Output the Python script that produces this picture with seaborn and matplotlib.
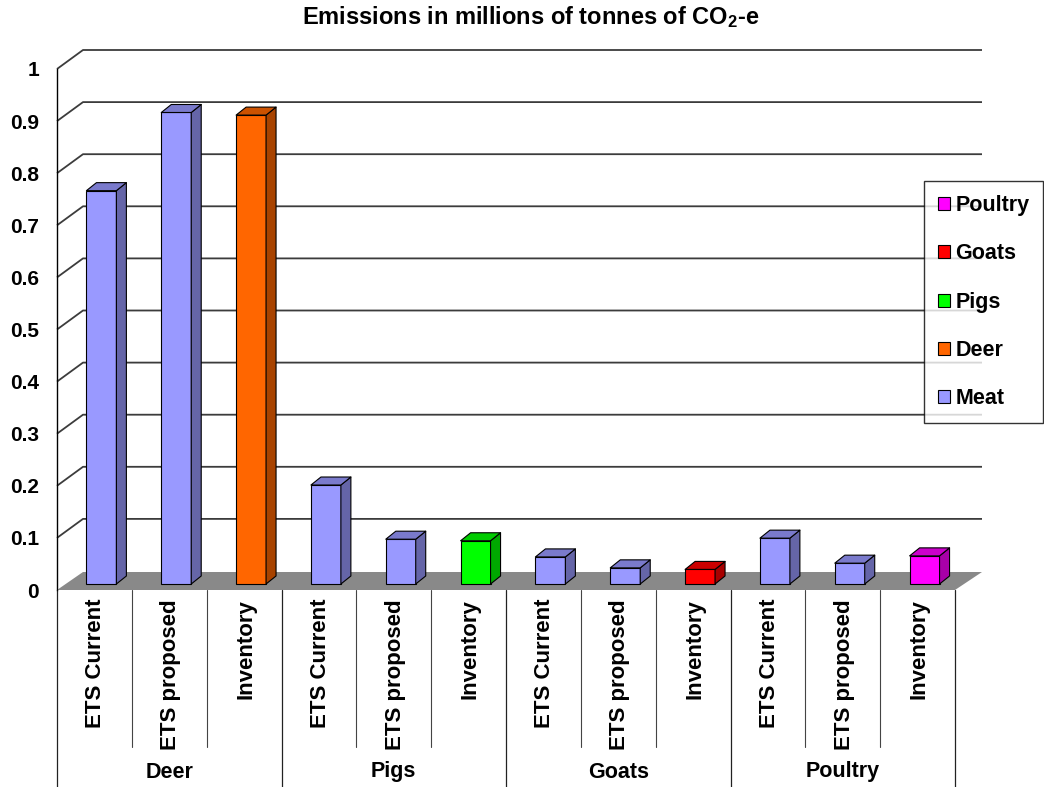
import numpy as np
import pandas as pd
import matplotlib
matplotlib.use("Agg")
import matplotlib.pyplot as plt
import matplotlib.transforms as mtransforms
from matplotlib.patches import Polygon, Patch
from matplotlib.colors import to_rgb
import seaborn as sns

# ---- data -------------------------------------------------------------
groups = ["Deer", "Pigs", "Goats", "Poultry"]
measures = ["ETS Current", "ETS proposed", "Inventory"]
deer_values = [0.755, 0.905, 0.900]
pigs_values = [0.190, 0.086, 0.083]
goats_values = [0.052, 0.031, 0.028]
poultry_values = [0.088, 0.040, 0.054]
y_ticks = [0, 0.1, 0.2, 0.3, 0.4, 0.5, 0.6, 0.7, 0.8, 0.9, 1]
y_tick_labels = ["0", "0.1", "0.2", "0.3", "0.4", "0.5", "0.6", "0.7", "0.8", "0.9", "1"]
legend_order = ["Poultry", "Goats", "Pigs", "Deer", "Meat"]
series_colors = {
    "Meat": "#9999FF",
    "Deer": "#FF6600",
    "Pigs": "#00FF00",
    "Goats": "#FF0000",
    "Poultry": "#FF00FF",
}
title = r"Emissions in millions of tonnes of CO$_2$-e"

# ---- tidy table ---------------------------------------------------------
rows = []
for g, vals in zip(groups, [deer_values, pigs_values, goats_values, poultry_values]):
    for m, v in zip(measures, vals):
        rows.append({
            "slot": f"{g} {m}",
            "group": g,
            "measure": m,
            "series": "Meat" if m.startswith("ETS") else g,
            "value": v,
        })
df = pd.DataFrame(rows)
slots = list(df["slot"])

# ---- style --------------------------------------------------------------
sns.set_style("white")
plt.rcParams["font.family"] = ["Liberation Sans", "DejaVu Sans"]
plt.rcParams["font.weight"] = "bold"
plt.rcParams["text.color"] = "black"
plt.rcParams["axes.labelcolor"] = "black"
plt.rcParams["ytick.color"] = "black"
plt.rcParams["ytick.labelcolor"] = "black"
plt.rcParams["mathtext.fontset"] = "custom"
plt.rcParams["mathtext.rm"] = "Liberation Sans:bold"
plt.rcParams["mathtext.bf"] = "Liberation Sans:bold"
plt.rcParams["mathtext.default"] = "rm"

W, H = 1044, 787
fig = plt.figure(figsize=(W / 100, H / 100), dpi=100)
fig.patch.set_facecolor("white")

# front plane of the plot area (pixel box 57..955 x 69..590)
left_px, right_px, top_px, bot_px = 57, 955, 69, 590
ax = fig.add_axes([left_px / W, 1 - bot_px / H,
                   (right_px - left_px) / W, (bot_px - top_px) / H])
ax.set_facecolor("none")

sns.barplot(data=df, x="slot", y="value", hue="series", order=slots,
            palette=series_colors, saturation=1, dodge=False, width=0.4,
            errorbar=None, legend=False, edgecolor="black", linewidth=0.8,
            ax=ax, zorder=4)

ax.set_xlim(-0.5, len(slots) - 0.5)
ax.set_ylim(0, 1)
ax.set_xlabel("")
ax.set_ylabel("")
ax.set_xticks([])
ax.set_yticks(y_ticks)
ax.set_yticklabels(y_tick_labels, fontsize=15, fontweight="bold", color="black")
ax.tick_params(axis="y", direction="out", length=4, width=1, pad=9,
               colors="black", labelcolor="black")
for s in ["top", "right", "bottom"]:
    ax.spines[s].set_visible(False)
ax.spines["left"].set_color("black")
ax.spines["left"].set_linewidth(1)
ax.grid(False)

fig.canvas.draw()

# depth offsets in pixels (x right, y up)
WALL_DX, WALL_DY = 26, 19
BAR_DX, BAR_DY = 7, 6
SIDE_DX, SIDE_DY = 10, 8

def px(x, y):
    return ax.transData.transform((x, y))

def data(p):
    return ax.transData.inverted().transform(p)

def shifted(x, y, dx, dy):
    p = px(x, y)
    return data((p[0] + dx, p[1] + dy))

x0, x1 = ax.get_xlim()

# floor
floor = Polygon([shifted(x0, 0, 0, 0), shifted(x1, 0, 0, 0),
                 shifted(x1, 0, WALL_DX + 1, WALL_DY - 1),
                 shifted(x0, 0, WALL_DX, WALL_DY - 1)],
                closed=True, facecolor="#898989", edgecolor="none",
                zorder=1, clip_on=False)
ax.add_patch(floor)

# back-wall gridlines with left-wall diagonals
for v in y_ticks[1:]:
    pts = np.array([shifted(x0, v, 0, 0),
                    shifted(x0, v, WALL_DX, WALL_DY),
                    shifted(x1, v, WALL_DX + 1, WALL_DY)])
    ax.plot(pts[:, 0], pts[:, 1], color="#3c3c3c", lw=1.3, zorder=2,
            clip_on=False, solid_capstyle="butt")

# 3-D bars: move the front faces back onto the floor, add side and top faces
bar_tf = mtransforms.offset_copy(ax.transData, fig=fig, x=BAR_DX, y=BAR_DY, units="dots")
for bar in list(ax.patches):
    if bar is floor:
        continue
    h = bar.get_height()
    if not np.isfinite(h) or h <= 0:
        continue
    bx, bw = bar.get_x(), bar.get_width()
    bar.set_transform(bar_tf)
    bar.set_clip_on(False)
    base = np.array(to_rgb(bar.get_facecolor()))
    side_c = base * 0.66
    top_c = base * 0.8
    xl, xr = bx, bx + bw
    side = Polygon([shifted(xr, 0, BAR_DX, BAR_DY),
                    shifted(xr, h, BAR_DX, BAR_DY),
                    shifted(xr, h, BAR_DX + SIDE_DX, BAR_DY + SIDE_DY),
                    shifted(xr, 0, BAR_DX + SIDE_DX, BAR_DY + SIDE_DY)],
                   closed=True, facecolor=side_c, edgecolor="black",
                   lw=0.8, zorder=4, clip_on=False, joinstyle="round")
    top = Polygon([shifted(xl, h, BAR_DX, BAR_DY),
                   shifted(xr, h, BAR_DX, BAR_DY),
                   shifted(xr, h, BAR_DX + SIDE_DX, BAR_DY + SIDE_DY),
                   shifted(xl, h, BAR_DX + SIDE_DX, BAR_DY + SIDE_DY)],
                  closed=True, facecolor=top_c, edgecolor="black",
                  lw=0.8, zorder=4, clip_on=False, joinstyle="round")
    ax.add_patch(side)
    ax.add_patch(top)

# ---- category table below the floor -------------------------------------
ax_h_px = bot_px - top_px

def yfrac(pix):
    return -(pix - bot_px) / ax_h_px

blend = mtransforms.blended_transform_factory(ax.transData, ax.transAxes)
n = len(measures)
for k in range(len(slots) + 1):
    xb = k - 0.5
    if k % n == 0:
        ax.plot([xb, xb], [0, yfrac(H + 5)], transform=blend, color="#222222",
                lw=0.9, clip_on=False, zorder=2)
    else:
        ax.plot([xb, xb], [0, yfrac(747)], transform=blend, color="#444444",
                lw=0.8, clip_on=False, zorder=2)

for i, m in enumerate(df["measure"]):
    ax.text(i + 0.02, yfrac(599), m, transform=blend, rotation=90, ha="center",
            va="top", fontsize=16, fontweight="bold", color="black")

for gi, g in enumerate(groups):
    ax.text(gi * n + (n - 1) / 2, yfrac(772), g, transform=blend, ha="center",
            va="center", fontsize=15.5, fontweight="bold", color="black")

# ---- title & legend -----------------------------------------------------
fig.text(531 / W, 1 - 17 / H, title, ha="center", va="center",
         fontsize=17, fontweight="bold", color="black")

handles = [Patch(facecolor=series_colors[s], edgecolor="black", lw=0.8)
           for s in legend_order]
leg = fig.legend(handles, legend_order, loc="upper left",
                 bbox_to_anchor=(924 / W, 1 - 181 / H),
                 frameon=True, fancybox=False, edgecolor="black",
                 prop={"weight": "bold", "size": 15.5},
                 handlelength=0.55, handleheight=0.55, handletextpad=0.25,
                 labelspacing=1.27, borderpad=0.65, borderaxespad=0)
leg.get_frame().set_linewidth(1)
for t in leg.get_texts():
    t.set_color("black")

fig.savefig("out.png", dpi=100, facecolor="white")
